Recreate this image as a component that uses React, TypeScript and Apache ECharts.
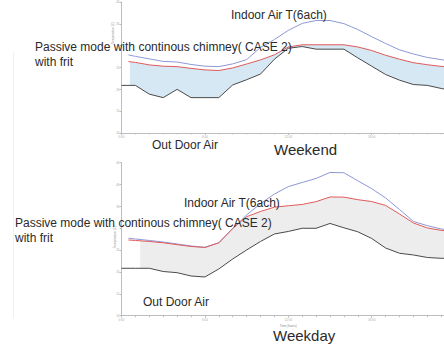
import React, { useEffect, useRef } from "react";
import * as echarts from "echarts";

// Hours of the day (x values)
const hoursOut = [0, 1, 2, 3, 4, 5, 6, 7, 8, 9, 10, 11, 12, 13, 14, 15, 16, 17, 18, 19, 20, 21, 22, 23, 24];
const hoursSim = [0.5, 1, 2, 3, 4, 5, 6, 7, 8, 9, 10, 11, 12, 13, 14, 15, 16, 17, 18, 19, 20, 21, 22, 23, 24];
const xTickLabels = ["0:00", "6:00", "12:00", "18:00", "24:00"];
const hiddenYTick = 30; // covered by the annotation text in the original

// Weekend (top)
const weekendOutdoor = [20.9, 20.9, 18.9, 18.1, 20.0, 18.1, 18.1, 18.1, 21.0, 22.2, 23.5, 26.9, 29.4, 29.8, 29.2, 29.2, 29.2, 27.2, 25.3, 23.4, 22.1, 21.1, 20.9, 20.2, 19.6];
const weekendCase2 = [26.35, 26.17, 25.6, 25.3, 25.2, 24.8, 24.45, 24.3, 24.9, 25.8, 26.74, 27.9, 29.7, 30.2, 30.2, 30.2, 30.2, 29.7, 28.9, 27.8, 26.9, 26.1, 25.64, 25.25, 25.0];
const weekendIndoor6ach = [27.89, 27.55, 26.97, 26.4, 26.26, 25.7, 25.3, 25.2, 25.83, 26.8, 29.6, 31.4, 33.5, 35.1, 35.76, 35.76, 35.05, 33.7, 32.06, 30.5, 29.04, 28.1, 27.3, 26.8, 26.3];
const weekendBandStart = 0.6;

// Weekday (bottom)
const weekdayOutdoor = [20.85, 20.85, 20.85, 20.11, 19.84, 19.08, 18.86, 20.69, 22.97, 25.03, 26.98, 28.7, 29.27, 30.0, 30.0, 31.1, 30.11, 29.2, 27.67, 25.49, 24.28, 23.89, 23.32, 23.13, 23.13];
const weekdayCase2 = [27.32, 27.21, 26.98, 26.68, 26.25, 25.84, 25.61, 26.68, 29.95, 32.65, 33.84, 34.83, 35.15, 35.45, 36.09, 37.16, 37.12, 36.54, 36.11, 35.22, 33.27, 31.21, 30.07, 29.52, 29.15];
const weekdayIndoor6ach = [27.71, 27.55, 27.21, 26.86, 26.41, 25.95, 25.65, 26.68, 29.95, 33.04, 35.63, 37.83, 39.52, 40.48, 41.4, 42.77, 42.7, 40.87, 39.06, 36.93, 34.3, 31.56, 30.6, 29.84, 29.38];
const weekdayBandStart = 1.35;

const pairs = (xs: number[], ys: number[]) => xs.map((x, i) => [x, ys[i]]);

function interp(xs: number[], ys: number[], x: number) {
  for (let i = 0; i < xs.length - 1; i++) {
    if (x >= xs[i] && x <= xs[i + 1]) {
      const t = (x - xs[i]) / (xs[i + 1] - xs[i]);
      return ys[i] + t * (ys[i + 1] - ys[i]);
    }
  }
  return ys[0];
}

function bandSeries(gi: number, start: number, upX: number[], up: number[], loX: number[], lo: number[], color: string) {
  return {
    type: "custom",
    xAxisIndex: gi,
    yAxisIndex: gi,
    z: 1,
    silent: true,
    data: [[12, 25]],
    renderItem: (_p: any, api: any) => {
      const top: number[][] = [[start, interp(upX, up, start)]];
      upX.forEach((x, i) => { if (x > start) top.push([x, up[i]]); });
      const bot: number[][] = [[start, interp(loX, lo, start)]];
      loX.forEach((x, i) => { if (x > start) bot.push([x, lo[i]]); });
      const pts = top.concat(bot.reverse()).map((p) => api.coord(p));
      return { type: "polygon", shape: { points: pts }, style: { fill: color, stroke: "none" } };
    },
  };
}

function lineSeries(gi: number, xs: number[], ys: number[], color: string, name: string) {
  return {
    type: "line",
    name,
    xAxisIndex: gi,
    yAxisIndex: gi,
    z: 3,
    data: pairs(xs, ys),
    showSymbol: false,
    symbol: "none",
    lineStyle: { color, width: 1 },
  };
}

const axisGray = "#bdbdbd";
const tinyText = { fontSize: 3, color: "#aaa" };

function xAxis(gi: number, name: string) {
  return {
    type: "value",
    gridIndex: gi,
    min: 0,
    max: 24,
    interval: 6,
    name,
    nameLocation: "middle",
    nameGap: 8,
    nameTextStyle: { fontSize: 3, color: "#888" },
    axisLine: { lineStyle: { color: axisGray, width: 1 } },
    axisTick: { show: true, length: 2, lineStyle: { color: axisGray } },
    minorTick: { show: true, splitNumber: 6, length: 1.5, lineStyle: { color: axisGray } },
    axisLabel: { ...tinyText, margin: 2, showMaxLabel: false, formatter: (v: number) => xTickLabels[v / 6] },
    splitLine: { show: false },
  };
}

function yAxis(gi: number, max: number) {
  return {
    type: "value",
    gridIndex: gi,
    min: 10,
    max,
    interval: 5,
    axisLine: { show: true, lineStyle: { color: axisGray, width: 1 } },
    axisTick: { show: true, length: 2, lineStyle: { color: axisGray } },
    axisLabel: { ...tinyText, margin: 2, formatter: (v: number) => (v === hiddenYTick ? "" : String(v)) },
    splitLine: { show: false },
  };
}

const font = "'Liberation Sans', Arial, sans-serif";
function label(text: string, x: number, y: number, size = 12) {
  return {
    type: "text",
    x,
    y,
    z: 100,
    silent: true,
    style: { text, fill: "#2a2a2a", font: `${size}px ${font}`, textVerticalAlign: "middle", textAlign: "left" },
  };
}
function axisName(text: string, x: number, y: number) {
  return {
    type: "text",
    x,
    y,
    rotation: Math.PI / 2,
    z: 50,
    silent: true,
    style: { text, fill: "#999", font: `3px ${font}`, textVerticalAlign: "middle", textAlign: "center" },
  };
}

export default function App() {
  const ref = useRef<HTMLDivElement>(null);
  useEffect(() => {
    if (!ref.current) return;
    const chart = echarts.init(ref.current, null, { renderer: "svg" });
    chart.setOption({
      animation: false,
      backgroundColor: "#ffffff",
      grid: [
        { left: 121.5, top: 2, width: 333.6, height: 131 },
        { left: 121.5, top: 162.7, width: 333.6, height: 153 },
      ],
      xAxis: [xAxis(0, ""), xAxis(1, "Time (hours)")],
      yAxis: [yAxis(0, 40), yAxis(1, 45)],
      series: [
        bandSeries(0, weekendBandStart, hoursSim, weekendCase2, hoursOut, weekendOutdoor, "#d5e8f4"),
        lineSeries(0, hoursSim, weekendIndoor6ach, "#8e98d6", "Indoor Air T(6ach)"),
        lineSeries(0, hoursSim, weekendCase2, "#e05a5a", "CASE 2"),
        lineSeries(0, hoursOut, weekendOutdoor, "#4a4a4a", "Out Door Air"),
        bandSeries(1, weekdayBandStart, hoursSim, weekdayCase2, hoursOut, weekdayOutdoor, "#ededed"),
        lineSeries(1, hoursSim, weekdayIndoor6ach, "#8e98d6", "Indoor Air T(6ach)"),
        lineSeries(1, hoursSim, weekdayCase2, "#e05a5a", "CASE 2"),
        lineSeries(1, hoursOut, weekdayOutdoor, "#4a4a4a", "Out Door Air"),
      ],
      graphic: [
        { type: "line", z: 0, silent: true, shape: { x1: 13.5, y1: 52, x2: 13.5, y2: 318 }, style: { stroke: "#f0f0f0", lineWidth: 1 } },
        axisName("Temperature (C)", 113, 33),
        axisName("Temperature (C)", 115, 237),
        label("Indoor Air T(6ach)", 231, 15),
        label("Passive mode with continous chimney( CASE 2)", 35, 47),
        label("with frit", 35, 62),
        label("Out Door Air", 152, 145),
        label("Weekend", 274, 149, 15),
        label("Indoor Air T(6ach)", 184, 203),
        label("Passive mode with continous chimney( CASE 2)", 15, 223),
        label("with frit", 15, 238),
        label("Out Door Air", 143, 302),
        label("Weekday", 273, 335, 15),
      ],
    });
    return () => chart.dispose();
  }, []);
  return (
    <div style={{ position: "fixed", left: 0, top: 0, width: 444, height: 345, overflow: "hidden", background: "#fff" }}>
      <div ref={ref} style={{ width: 470, height: 345 }} />
    </div>
  );
}
